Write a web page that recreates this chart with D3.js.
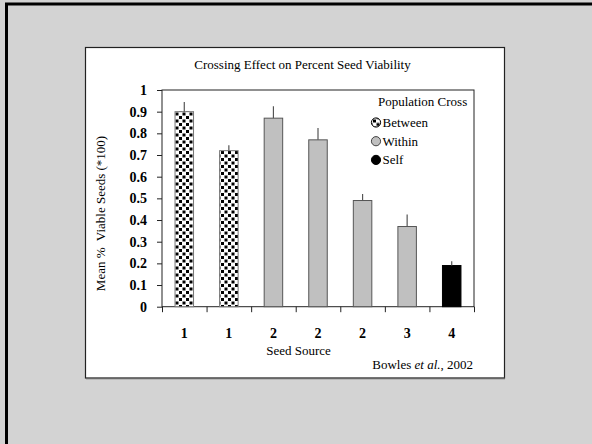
<!DOCTYPE html>
<html>
<head>
<meta charset="utf-8">
<script src="https://cdn.jsdelivr.net/npm/d3@7"></script>
<style>
  body { margin: 0; background: #d3d3d3; }
  svg { display: block; font-family: "Liberation Serif", "Times New Roman", serif; }
</style>
</head>
<body>
<svg class="chart"></svg>
<script>
var sources = ["1", "1", "2", "2", "2", "3", "4"];
var crossType = ["Between", "Between", "Within", "Within", "Within", "Within", "Self"];
var viability = [0.90, 0.72, 0.87, 0.77, 0.49, 0.37, 0.19];
var stdErr = [0.045, 0.025, 0.055, 0.055, 0.03, 0.055, 0.02];
var yTicks = [0, 0.1, 0.2, 0.3, 0.4, 0.5, 0.6, 0.7, 0.8, 0.9, 1];
var yTickLabels = ["0", "0.1", "0.2", "0.3", "0.4", "0.5", "0.6", "0.7", "0.8", "0.9", "1"];
var legendItems = ["Between", "Within", "Self"];

var W = 592, H = 444;
var plot = {left: 162, right: 474, top: 90, bottom: 306.7};

var svg = d3.select(".chart").attr("width", W).attr("height", H);

// seed pattern for "Between" bars
var defs = svg.append("defs");
var pat = defs.append("pattern")
    .attr("id", "dots")
    .attr("patternUnits", "userSpaceOnUse")
    .attr("width", 7).attr("height", 7);
pat.append("rect").attr("width", 7).attr("height", 7).attr("fill", "#fff");
pat.append("rect").attr("x", 0.5).attr("y", 0.5).attr("width", 3).attr("height", 3).attr("fill", "#000");
pat.append("rect").attr("x", 4).attr("y", 4).attr("width", 3).attr("height", 3).attr("fill", "#000");

var fills = {Between: "url(#dots)", Within: "#c0c0c0", Self: "#000"};
var strokes = {Between: "#777", Within: "#555", Self: "#000"};

// slide frame
svg.append("rect").attr("width", W).attr("height", H).attr("fill", "#d3d3d3");
svg.append("path")
    .attr("d", "M6.5," + H + "V4H" + W)
    .attr("fill", "none").attr("stroke", "#000").attr("stroke-width", 3);

// white panel
svg.append("rect")
    .attr("x", 85.5).attr("y", 47.5)
    .attr("width", 419).attr("height", 330.5)
    .attr("fill", "#fff").attr("stroke", "#222").attr("stroke-width", 1.2);
svg.append("line")
    .attr("x1", 86).attr("x2", 505).attr("y1", 378.5).attr("y2", 378.5)
    .attr("stroke", "#666").attr("stroke-width", 1.5);

var x = d3.scaleBand()
    .domain(d3.range(sources.length))
    .range([plot.left, plot.right])
    .paddingInner(0.585).paddingOuter(0.2925);

var xEdge = d3.scaleLinear().domain([0, sources.length]).range([plot.left, plot.right]);

var y = d3.scaleLinear().domain([0, 1]).range([plot.bottom, plot.top]);

// plot box
svg.append("rect")
    .attr("x", plot.left).attr("y", plot.top)
    .attr("width", plot.right - plot.left).attr("height", plot.bottom - plot.top)
    .attr("fill", "none").attr("stroke", "#222").attr("stroke-width", 1);

// bars
svg.selectAll(".bar")
    .data(viability)
  .enter().append("rect")
    .attr("class", "bar")
    .attr("x", function(d, i) { return x(i); })
    .attr("y", function(d) { return y(d); })
    .attr("width", x.bandwidth())
    .attr("height", function(d) { return y(0) - y(d); })
    .attr("fill", function(d, i) { return fills[crossType[i]]; })
    .attr("stroke", function(d, i) { return strokes[crossType[i]]; })
    .attr("stroke-width", 1);

// error bars (upper only)
svg.selectAll(".err")
    .data(viability)
  .enter().append("line")
    .attr("class", "err")
    .attr("x1", function(d, i) { return x(i) + x.bandwidth() / 2; })
    .attr("x2", function(d, i) { return x(i) + x.bandwidth() / 2; })
    .attr("y1", function(d) { return y(d); })
    .attr("y2", function(d, i) { return y(d + stdErr[i]); })
    .attr("stroke", "#555").attr("stroke-width", 1.2);

// y axis
var yAxis = d3.axisLeft(y)
    .tickValues(yTicks)
    .tickFormat(function(d, i) { return yTickLabels[i]; })
    .tickSize(5).tickSizeOuter(0).tickPadding(10);
var gy = svg.append("g")
    .attr("transform", "translate(" + plot.left + ",0)")
    .call(yAxis);
gy.select(".domain").remove();
gy.selectAll("line").attr("stroke", "#222");
gy.selectAll("text")
    .attr("font-family", "Liberation Serif, Times New Roman, serif")
    .attr("font-size", 14).attr("font-weight", "bold").attr("fill", "#000");

// x axis boundary ticks
var gEdge = svg.append("g")
    .attr("transform", "translate(0," + plot.bottom + ")")
    .call(d3.axisBottom(xEdge).ticks(sources.length).tickSize(5.5).tickSizeOuter(0).tickFormat(""));
gEdge.select(".domain").remove();
gEdge.selectAll("line").attr("stroke", "#222");

// x axis labels
var gx = svg.append("g")
    .attr("transform", "translate(0," + plot.bottom + ")")
    .call(d3.axisBottom(x).tickSize(0).tickPadding(21).tickFormat(function(i) { return sources[i]; }));
gx.select(".domain").remove();
gx.selectAll("text")
    .attr("font-family", "Liberation Serif, Times New Roman, serif")
    .attr("font-size", 14).attr("font-weight", "bold").attr("fill", "#000");

// titles
svg.append("text")
    .attr("x", 302.5).attr("y", 69)
    .attr("text-anchor", "middle")
    .attr("font-size", 13)
    .text("Crossing Effect on Percent Seed Viability");

svg.append("text")
    .attr("transform", "translate(105,213.5) rotate(-90)")
    .attr("text-anchor", "middle")
    .attr("font-size", 13)
    .attr("xml:space", "preserve")
    .text("Mean %  Viable Seeds (*100)");

svg.append("text")
    .attr("x", 298.5).attr("y", 355)
    .attr("text-anchor", "middle")
    .attr("font-size", 13)
    .text("Seed Source");

var cite = svg.append("text")
    .attr("x", 473).attr("y", 368.5)
    .attr("text-anchor", "end")
    .attr("font-size", 13);
cite.append("tspan").text("Bowles ");
cite.append("tspan").attr("font-style", "italic").text("et al.");
cite.append("tspan").text(", 2002");

// legend
svg.append("text")
    .attr("x", 378).attr("y", 105.5)
    .attr("font-size", 13)
    .text("Population Cross");

var leg = svg.selectAll(".leg")
    .data(legendItems)
  .enter().append("g")
    .attr("class", "leg")
    .attr("transform", function(d, i) { return "translate(376," + (122.5 + i * 18.7) + ")"; });
leg.append("circle")
    .attr("r", 4.6)
    .attr("fill", function(d) { return fills[d]; })
    .attr("stroke", function(d) { return d === "Within" ? "#444" : "#000"; })
    .attr("stroke-width", 1);
leg.append("text")
    .attr("x", 6.5).attr("y", 4.3)
    .attr("font-size", 13)
    .text(function(d) { return d; });
</script>
</body>
</html>
